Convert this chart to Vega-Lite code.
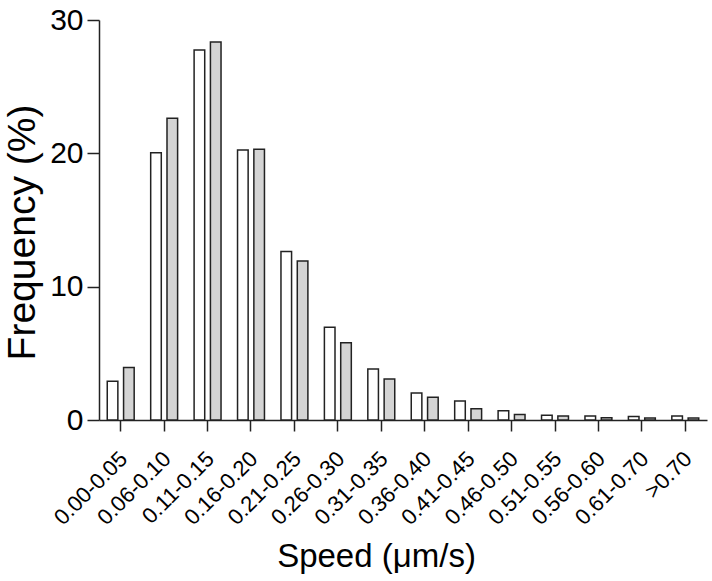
{
  "$schema": "https://vega.github.io/schema/vega-lite/v6.json",
  "autosize": {"type": "none"},
  "width": 608,
  "height": 400,
  "padding": {"left": 99, "top": 20, "right": 5, "bottom": 161},
  "background": "white",
  "config": {
    "view": {"stroke": null},
    "font": "Liberation Sans",
    "axis": {
      "grid": false,
      "domainColor": "#222",
      "domainWidth": 1.5,
      "tickColor": "#222",
      "tickWidth": 1.5,
      "labelColor": "#000",
      "titleColor": "#000",
      "labelFont": "Liberation Sans",
      "titleFont": "Liberation Sans",
      "titleFontWeight": "normal"
    }
  },
  "data": {
    "values": [
      {"speed": "0.00-0.05", "group": "A", "freq": 2.9},
      {"speed": "0.00-0.05", "group": "B", "freq": 3.93},
      {"speed": "0.06-0.10", "group": "A", "freq": 20.05},
      {"speed": "0.06-0.10", "group": "B", "freq": 22.63},
      {"speed": "0.11-0.15", "group": "A", "freq": 27.75},
      {"speed": "0.11-0.15", "group": "B", "freq": 28.35},
      {"speed": "0.16-0.20", "group": "A", "freq": 20.25},
      {"speed": "0.16-0.20", "group": "B", "freq": 20.3},
      {"speed": "0.21-0.25", "group": "A", "freq": 12.63},
      {"speed": "0.21-0.25", "group": "B", "freq": 11.93},
      {"speed": "0.26-0.30", "group": "A", "freq": 6.95},
      {"speed": "0.26-0.30", "group": "B", "freq": 5.8},
      {"speed": "0.31-0.35", "group": "A", "freq": 3.83},
      {"speed": "0.31-0.35", "group": "B", "freq": 3.07},
      {"speed": "0.36-0.40", "group": "A", "freq": 2.02},
      {"speed": "0.36-0.40", "group": "B", "freq": 1.7},
      {"speed": "0.41-0.45", "group": "A", "freq": 1.42},
      {"speed": "0.41-0.45", "group": "B", "freq": 0.85},
      {"speed": "0.46-0.50", "group": "A", "freq": 0.7},
      {"speed": "0.46-0.50", "group": "B", "freq": 0.42},
      {"speed": "0.51-0.55", "group": "A", "freq": 0.35},
      {"speed": "0.51-0.55", "group": "B", "freq": 0.3},
      {"speed": "0.56-0.60", "group": "A", "freq": 0.3},
      {"speed": "0.56-0.60", "group": "B", "freq": 0.17},
      {"speed": "0.61-0.70", "group": "A", "freq": 0.27},
      {"speed": "0.61-0.70", "group": "B", "freq": 0.15},
      {"speed": ">0.70", "group": "A", "freq": 0.3},
      {"speed": ">0.70", "group": "B", "freq": 0.15}
    ]
  },
  "mark": {"type": "bar", "stroke": "#222", "strokeWidth": 1.5},
  "encoding": {
    "x": {
      "field": "speed",
      "type": "nominal",
      "sort": null,
      "scale": {"paddingInner": 0.38, "paddingOuter": 0.19},
      "axis": {
        "title": "Speed (μm/s)",
        "titleFontSize": 33,
        "titleX": 277,
        "titleY": 146,
        "titleBaseline": "alphabetic",
        "labelAngle": -45,
        "labelAlign": "right",
        "labelBaseline": "middle",
        "labelFontSize": 22,
        "labelPadding": 24,
        "labelOffset": 3,
        "tickSize": 11
      }
    },
    "xOffset": {
      "field": "group",
      "type": "nominal",
      "scale": {"paddingInner": 0.35, "paddingOuter": 0}
    },
    "y": {
      "field": "freq",
      "type": "quantitative",
      "scale": {"domain": [0, 30], "nice": false},
      "axis": {
        "title": "Frequency (%)",
        "titleFontSize": 39,
        "titleX": -65,
        "titleY": 212,
        "titleBaseline": "alphabetic",
        "values": [0, 10, 20, 30],
        "labelFontSize": 30,
        "labelPadding": 4,
        "tickSize": 12
      }
    },
    "fill": {
      "field": "group",
      "type": "nominal",
      "scale": {"domain": ["A", "B"], "range": ["#ffffff", "#d4d4d4"]},
      "legend": null
    }
  }
}
